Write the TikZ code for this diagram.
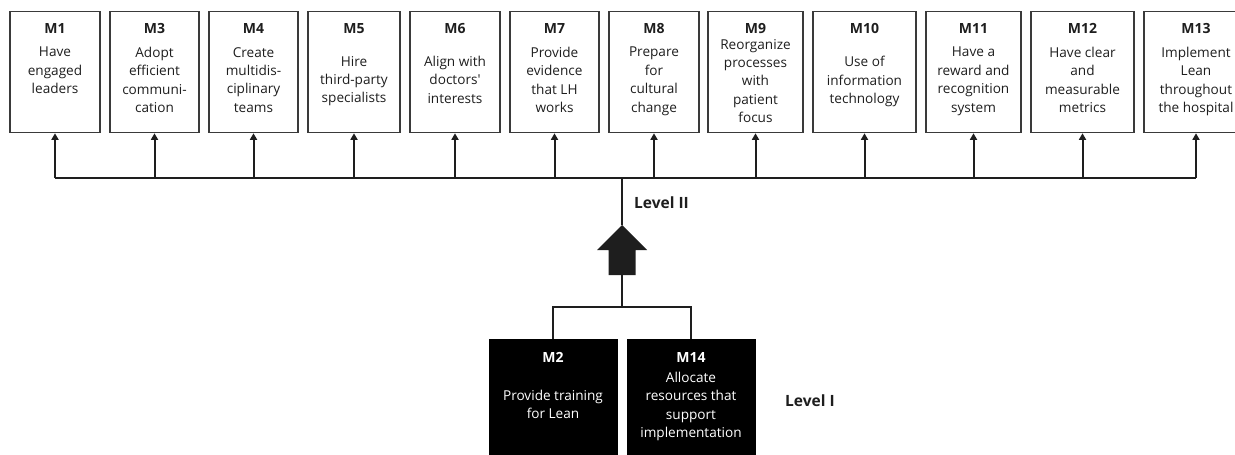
\documentclass[tikz,border=0pt]{standalone}
\usepackage{fontspec}
\setmainfont{Open Sans}
\usetikzlibrary{arrows.meta}
\definecolor{ink}{HTML}{1E1E1E}
\definecolor{edge}{HTML}{3A3A3A}

% one upper-level box: name, centre x, width, title, top of body text, body text
\newcommand\topitem[6]{%
  \node[topbox, minimum width=#3] (#1) at (#2,11) {};
  \node[ttl] (#1t) at (#2,33) {#4};
  \node[body] (#1b) at (#2,#5) {#6};
}

\begin{document}
\begin{tikzpicture}[x=1pt, y=-1pt,
  topbox/.style={draw=edge, line width=1.3pt, minimum height=121pt, inner sep=0pt, anchor=north},
  botbox/.style={fill=black, draw=black, minimum width=128pt, minimum height=130pt, inner sep=0pt, anchor=north},
  ttl/.style={anchor=base, inner sep=0pt, text=ink, font=\fontsize{14}{16}\selectfont\bfseries},
  body/.style={anchor=north, inner sep=0pt, align=center, text=ink, font=\fontsize{13.6}{18.4}\selectfont},
  wire/.style={draw=ink, line width=2pt},
  link/.style={draw=ink, line width=1.5pt},
  up/.style={wire, -{Triangle[length=6.5pt, width=7pt]}},
  level/.style={anchor=west, inner sep=0pt, text=ink, font=\fontsize{15.5}{18}\selectfont\bfseries},
]
\useasboundingbox (0,0) rectangle (1235,455);

% Level II: upper row of measures
\topitem{m1}{55}{90}{M1}{47}{Have\\engaged\\leaders}
\topitem{m3}{154.5}{89}{M3}{47}{Adopt\\efficient\\communi-\\cation}
\topitem{m4}{253.5}{89}{M4}{47}{Create\\multidis-\\ciplinary\\teams}
\topitem{m5}{354}{92}{M5}{56}{Hire\\third-party\\specialists}
\topitem{m6}{455}{90}{M6}{56}{Align with\\doctors\textquotesingle\\interests}
\topitem{m7}{554.5}{89}{M7}{47}{Provide\\evidence\\that LH\\works}
\topitem{m8}{654}{90}{M8}{47}{Prepare\\for\\cultural\\change}
\topitem{m9}{755.5}{95}{M9}{39}{Reorganize\\processes\\with\\patient\\focus}
\topitem{m10}{864.5}{103}{M10}{56}{Use of\\information\\technology}
\topitem{m11}{973.5}{95}{M11}{47}{Have a\\reward and\\recognition\\system}
\topitem{m12}{1082.5}{103}{M12}{47}{Have clear\\and\\measurable\\metrics}
\topitem{m13}{1196}{104}{M13}{47}{Implement\\Lean\\throughout\\the hospital}

% distribution bus feeding every upper box
\coordinate (bus) at (622,178);
\draw[wire] (m1.south |- bus) -- (m13.south |- bus);
\foreach \m in {m1,m3,m4,m5,m6,m7,m8,m9,m10,m11,m12,m13}
  \draw[up] (\m.south |- bus) -- (\m.south);

% block arrow between the two levels
\coordinate (ahead) at (622,225);
\coordinate (atail) at (622,275);
\draw[wire] (bus) -- (ahead);
\fill[ink] (ahead) -- ++(-25,25) -- ++(11.5,0) -- ++(0,25) -- ++(27,0) -- ++(0,-25) -- ++(11.5,0) -- cycle;

% Level I: base measures
\node[botbox] (m2) at (553,339) {};
\node[botbox] (m14) at (691,339) {};
\node[ttl, text=white] (m2t) at (553,362) {M2};
\node[ttl, text=white] (m14t) at (691,362) {M14};
\node[body, text=white] (m2b) at (553,390) {Provide training\\for Lean};
\node[body, text=white] (m14b) at (691,372) {Allocate\\resources that\\support\\implementation};

\coordinate (split) at (622,307);
\draw[link] (atail) -- (split);
\draw[link] (m2.north) -- (m2.north |- split) -- (m14.north |- split) -- (m14.north);

% level captions
\node[level] (lvl2) at (634,203) {Level II};
\node[level] (lvl1) at (785,401) {Level I};
\end{tikzpicture}
\end{document}
